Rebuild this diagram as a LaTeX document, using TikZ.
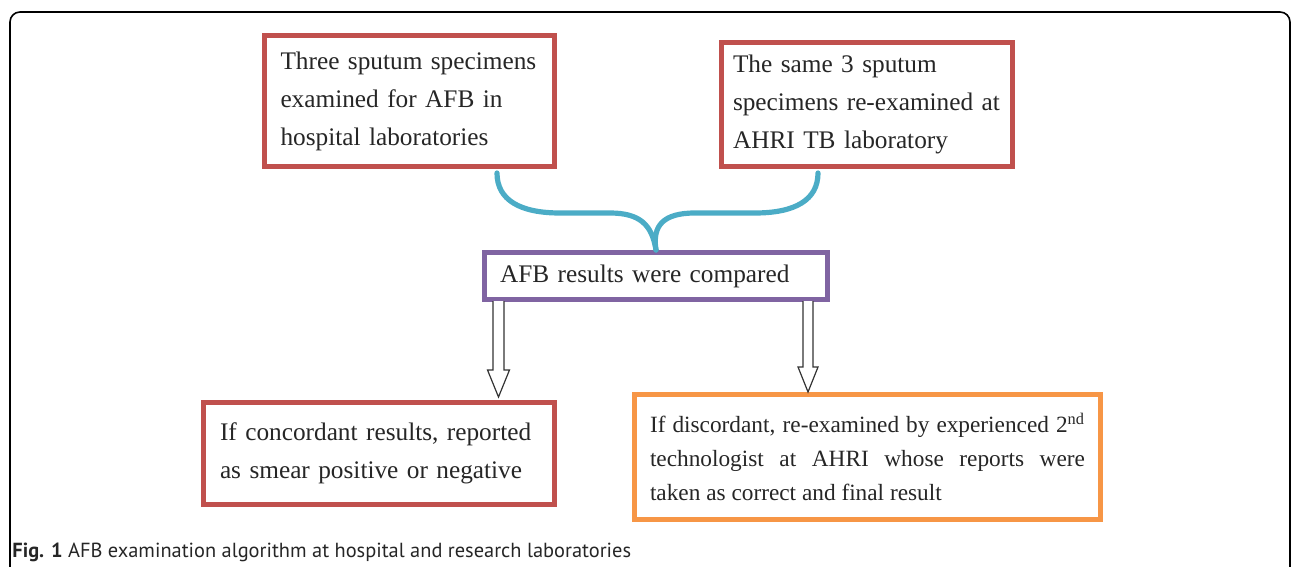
\documentclass[tikz,border=0pt]{standalone}
\usepackage{fontspec}
\setmainfont{Liberation Serif}
\newfontfamily\capfont{PT Sans}
\usetikzlibrary{calc}
\definecolor{boxred}{HTML}{C0504D}
\definecolor{boxpurple}{HTML}{8064A2}
\definecolor{bracecyan}{HTML}{4BACC6}
\definecolor{boxorange}{HTML}{F79646}
\begin{document}
\begin{tikzpicture}[x=0.5pt,y=-0.5pt,
  box/.style={draw, line width=2.5pt, inner sep=0pt, align=left, text=black!85,
    fill=white, font=\fontsize{12.65pt}{19pt}\selectfont},
  hollow/.style={draw=black!80, line width=0.6pt, fill=white, line join=miter},
  brace/.style={draw=bracecyan, line width=2.6pt, line cap=round}]
\useasboundingbox (0,0) rectangle (1292,567);
% outer frame
\draw[line width=0.8pt, rounded corners=5pt] (10,12) rectangle (1290,640);

% top boxes
\node[box, draw=boxred, minimum width=145pt, minimum height=65.5pt, text width=129pt]
  (hosp) at (409.5,101) {Three sputum specimens\\examined for AFB in\\hospital laboratories};
\node[box, draw=boxred, minimum width=145.5pt, minimum height=62pt, text width=134pt]
  (ahri) at (867,104.5) {The same 3 sputum\\specimens re-examined at\\AHRI TB laboratory};

% comparison box
\node[box, draw=boxpurple, minimum width=171.5pt, minimum height=23.5pt, text width=156pt]
  (cmp) at (656,276) {AFB results were compared};

% brace
\coordinate (bL) at (497,173);
\coordinate (bR) at (818,173);
\draw[brace] (bL) .. controls (497,200) and (520,213) .. (560,213) -- (610,213)
  .. controls (640,213) and (652,225) .. (cmp.north);
\draw[brace] (bR) .. controls (818,200) and (795,213) .. (755,213) -- (695,213)
  .. controls (664,213) and (652,225) .. (cmp.north);

% bottom boxes
\node[box, draw=boxred, minimum width=175.5pt, minimum height=51pt, text width=159pt]
  (conc) at (379,453.5) {If concordant results, reported\\as smear positive or negative};
\node[box, draw=boxorange, minimum width=233pt, minimum height=62.5pt, text width=217.5pt,
  align=justify, font=\fontsize{11.65pt}{17pt}\selectfont]
  (disc) at (867.5,457) {If discordant, re-examined by experienced 2\textsuperscript{nd}\linebreak
  technologist at AHRI whose reports were\linebreak taken as correct and final result};

% hollow arrows
\coordinate (a1t) at (498.5,301);
\coordinate (a1h) at (498.5,397);
\draw[hollow] ($(a1t)+(-5.5,0)$) -- ($(a1h)+(-5.5,-27)$) -- ($(a1h)+(-11,-27)$) -- (a1h)
  -- ($(a1h)+(11,-27)$) -- ($(a1h)+(5.5,-27)$) -- ($(a1t)+(5.5,0)$);
\coordinate (a2t) at (808,301);
\coordinate (a2h) at (808,392);
\draw[hollow] ($(a2t)+(-5,0)$) -- ($(a2h)+(-5,-25)$) -- ($(a2h)+(-10,-25)$) -- (a2h)
  -- ($(a2h)+(10,-25)$) -- ($(a2h)+(5,-25)$) -- ($(a2t)+(5,0)$);

% caption
\node[anchor=base west, inner sep=0pt, text=black!85,
  font=\capfont\fontsize{10.2pt}{12pt}\selectfont] (cap) at (12,557)
  {\textbf{Fig. 1} AFB examination algorithm at hospital and research laboratories};
\end{tikzpicture}
\end{document}
